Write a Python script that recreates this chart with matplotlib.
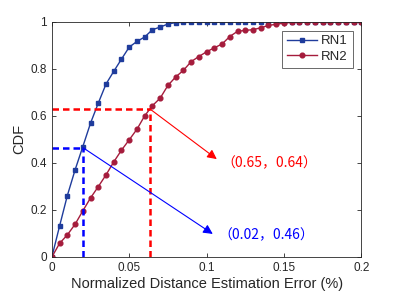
import matplotlib
matplotlib.use("Agg")
import matplotlib.pyplot as plt
import numpy

plt.rcParams['font.family'] = ['Liberation Sans', 'DejaVu Sans']

# x step 0.005 from 0 to 0.2
err = numpy.arange(0, 0.2001, 0.005)

rn1 = [0, 0.132, 0.261, 0.370, 0.469, 0.569, 0.654, 0.735, 0.789, 0.841,
       0.892, 0.916, 0.935, 0.966, 0.977, 0.990, 0.996, 0.997, 0.997, 0.998,
       0.998, 0.998, 0.999, 0.999, 0.999, 0.999, 1, 1, 1, 1,
       1, 1, 1, 1, 1, 1, 1, 1, 1, 1, 1]
rn2 = [0, 0.058, 0.094, 0.139, 0.196, 0.251, 0.299, 0.349, 0.404, 0.454,
       0.498, 0.543, 0.600, 0.643, 0.675, 0.729, 0.765, 0.793, 0.830, 0.852,
       0.872, 0.889, 0.905, 0.937, 0.959, 0.963, 0.966, 0.974, 0.984, 0.989,
       0.994, 0.997, 0.998, 0.998, 0.999, 0.999, 1, 1, 1, 1, 1]

# marked points and label positions
p1 = (0.02, 0.465)
p2 = (0.0636, 0.628)
lbl1 = "（0.02，0.46）"
lbl2 = "（0.65，0.64）"

c1 = "#1f3c9c"
c2 = "#a51c3c"
txt = "#262626"

fig = plt.figure(figsize=(3.99, 2.99), dpi=100)
ax = fig.add_axes([0.130, 0.1405, 0.7755, 0.787])

ax.plot(err, rn1, "-s", color=c1, markersize=3.0, linewidth=1.0, label="RN1")
ax.plot(err, rn2, "-o", color=c2, markersize=3.4, linewidth=1.0, label="RN2")

# dashed guides
ax.plot([0, p1[0]], [p1[1], p1[1]], "--", color="#0000ff", linewidth=1.8, dashes=(2.6, 1.6))
ax.plot([p1[0], p1[0]], [0, p1[1]], "--", color="#0000ff", linewidth=1.8, dashes=(2.6, 1.6))
ax.plot([0, p2[0]], [p2[1], p2[1]], "--", color="#ff0000", linewidth=1.8, dashes=(2.6, 1.6))
ax.plot([p2[0], p2[0]], [0, p2[1]], "--", color="#ff0000", linewidth=1.8, dashes=(2.6, 1.6))

ax.annotate("", xy=(0.1066, 0.416), xytext=p2,
            arrowprops=dict(arrowstyle="-|>", color="#ff0000", lw=0.8,
                            mutation_scale=14, shrinkA=0, shrinkB=0))
ax.annotate("", xy=(0.104, 0.098), xytext=p1,
            arrowprops=dict(arrowstyle="-|>", color="#0000ff", lw=0.8,
                            mutation_scale=14, shrinkA=0, shrinkB=0))
ax.text(0.1095, 0.399, lbl2, color="#ff0000", fontsize=10, va="center",
        family=['Noto Sans CJK SC', 'DejaVu Sans'])
ax.text(0.1075, 0.092, lbl1, color="#0000ff", fontsize=10, va="center",
        family=['Noto Sans CJK SC', 'DejaVu Sans'])

ax.set_xlim(0, 0.2)
ax.set_ylim(0, 1)
ax.set_xticks([0, 0.05, 0.1, 0.15, 0.2])
ax.set_xticklabels(["0", "0.05", "0.1", "0.15", "0.2"])
ax.set_yticks([0, 0.2, 0.4, 0.6, 0.8, 1])
ax.set_yticklabels(["0", "0.2", "0.4", "0.6", "0.8", "1"])
ax.tick_params(direction="in", top=True, right=True, labelsize=8.5, colors=txt,
               length=3, width=0.6)
for s in ax.spines.values():
    s.set_color("#262626")
    s.set_linewidth(0.6)
ax.set_xlabel("Normalized Distance Estimation Error (%)", fontsize=10.5, color=txt, labelpad=2)
ax.set_ylabel("CDF", fontsize=10.5, color=txt, labelpad=3)

leg = ax.legend(loc="upper right", bbox_to_anchor=(0.972, 0.962), fontsize=9.5,
                fancybox=False, edgecolor="#262626", handlelength=2.3,
                borderpad=0.35, labelspacing=0.25, handletextpad=0.3, borderaxespad=0)
leg.get_frame().set_linewidth(0.6)
for t in leg.get_texts():
    t.set_color(txt)

fig.savefig("out.png", dpi=100)
